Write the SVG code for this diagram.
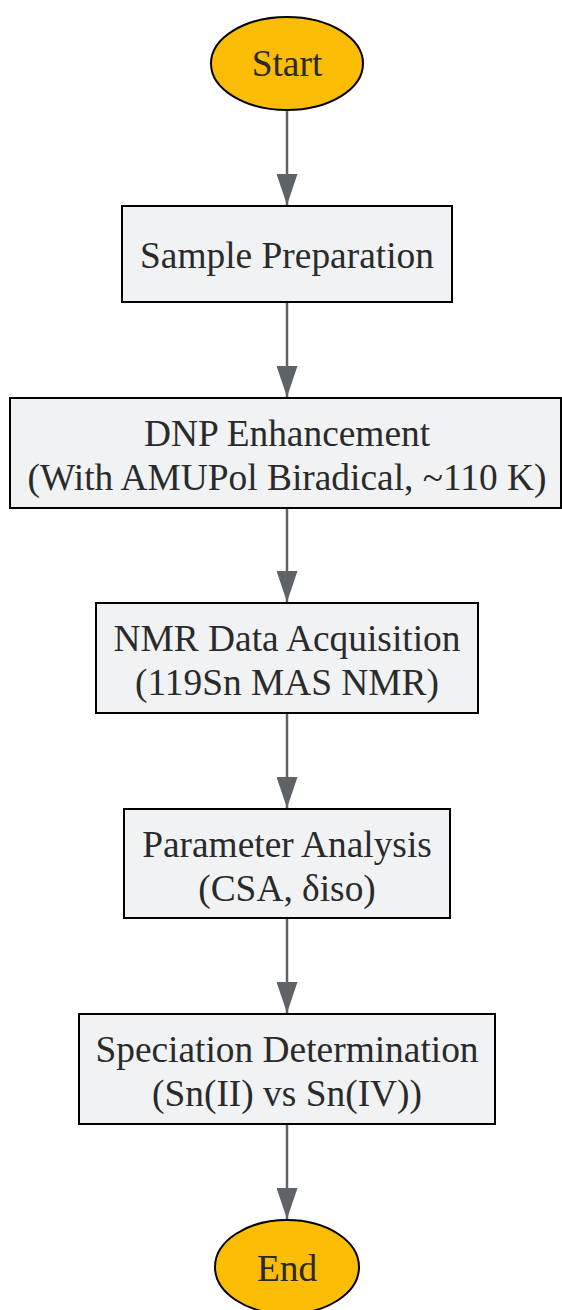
<svg xmlns="http://www.w3.org/2000/svg" width="562" height="1310" viewBox="0 0 562 1310">
<style>
.box{fill:#f1f2f4;stroke:#000;stroke-width:2}
.term{fill:#fbbc04;stroke:#000;stroke-width:2}
.lbl{font-family:"Liberation Serif","Times New Roman",serif;font-size:37.4px;fill:#2a2a2a;text-anchor:middle}
.edge{stroke:#5f6368;stroke-width:2.5;fill:none}
</style>
<defs>
<marker id="ah" viewBox="0 0 31 21" refX="31" refY="10.5" markerWidth="31" markerHeight="21" markerUnits="userSpaceOnUse" orient="auto">
<path d="M0,0 L31,10.5 L0,21 Z" fill="#5f6368"/>
</marker>
</defs>
<rect width="562" height="1310" fill="#fff"/>
<g id="connectors">
<line class="edge" x1="287" y1="110" x2="287" y2="205" marker-end="url(#ah)"/>
<line class="edge" x1="287" y1="302" x2="287" y2="397" marker-end="url(#ah)"/>
<line class="edge" x1="287" y1="508" x2="287" y2="602" marker-end="url(#ah)"/>
<line class="edge" x1="287" y1="713" x2="287" y2="808" marker-end="url(#ah)"/>
<line class="edge" x1="287" y1="918" x2="287" y2="1013" marker-end="url(#ah)"/>
<line class="edge" x1="287" y1="1124" x2="287" y2="1219" marker-end="url(#ah)"/>
</g>
<g id="start">
<ellipse class="term" cx="287" cy="63.5" rx="76" ry="46.5"/>
<text class="lbl" x="287" y="76">Start</text>
</g>
<g id="sample">
<rect class="box" x="122" y="206" width="330" height="96"/>
<text class="lbl" x="287" y="268">Sample Preparation</text>
</g>
<g id="dnp">
<rect class="box" x="10" y="398" width="551" height="110"/>
<text class="lbl" x="287" y="446">DNP Enhancement</text>
<text class="lbl" x="287" y="490">(With AMUPol Biradical, ~110 K)</text>
</g>
<g id="nmr">
<rect class="box" x="96" y="603" width="382" height="110"/>
<text class="lbl" x="287" y="651">NMR Data Acquisition</text>
<text class="lbl" x="287" y="695">(119Sn MAS NMR)</text>
</g>
<g id="param">
<rect class="box" x="124" y="809" width="326" height="109"/>
<text class="lbl" x="287" y="857">Parameter Analysis</text>
<text class="lbl" x="287" y="901">(CSA, δiso)</text>
</g>
<g id="spec">
<rect class="box" x="79" y="1014" width="416" height="110"/>
<text class="lbl" x="287" y="1062">Speciation Determination</text>
<text class="lbl" x="287" y="1106">(Sn(II) vs Sn(IV))</text>
</g>
<g id="end">
<ellipse class="term" cx="287" cy="1267" rx="72" ry="47"/>
<text class="lbl" x="287" y="1281">End</text>
</g>
</svg>
